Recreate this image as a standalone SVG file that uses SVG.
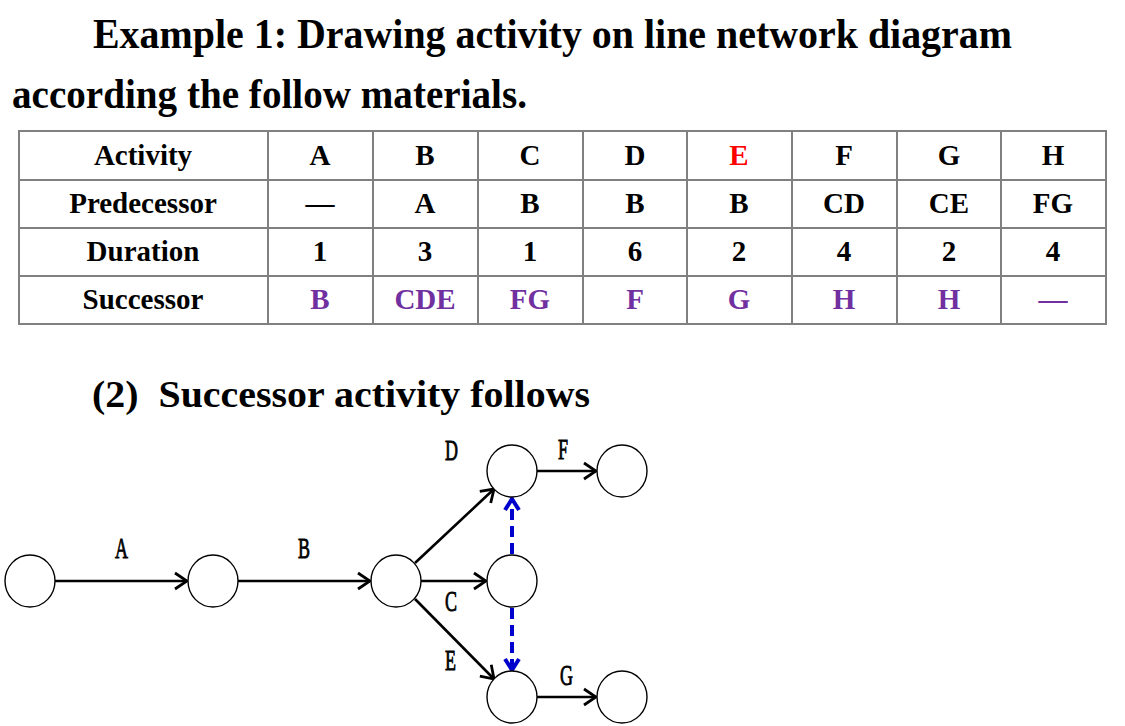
<svg xmlns="http://www.w3.org/2000/svg" width="1125" height="726" viewBox="0 0 1125 726">
<style>
.t{font-family:"Liberation Serif","Times New Roman",serif;font-weight:bold;fill:#000}
.c{font-family:"Liberation Serif","Times New Roman",serif;font-weight:bold;font-size:29px;text-anchor:middle;fill:#000}
.p{fill:#7030A0}
.r{fill:#FF0000}
.g{stroke:#808080;stroke-width:2;fill:none}
.n{fill:#fff;stroke:#000;stroke-width:1.4}
.a{stroke:#000;stroke-width:2.6;fill:none}
.d{stroke:#0000CC;stroke-width:4;fill:none;stroke-dasharray:11 6}
.l{font-family:"Liberation Serif","Times New Roman",serif;font-size:30px;fill:#000;stroke:#000;stroke-width:0.9}
</style>
<defs>
<marker id="ah" viewBox="-15 -10 17 20" refX="0" refY="0" markerWidth="17" markerHeight="20" markerUnits="userSpaceOnUse" orient="auto">
<polyline points="-12,-8 0,0 -12,8" fill="none" stroke="#000" stroke-width="2.8"/>
</marker>
<marker id="bh" viewBox="-15 -10 17 20" refX="0" refY="0" markerWidth="17" markerHeight="20" markerUnits="userSpaceOnUse" orient="auto">
<polyline points="-11,-7 0,0 -11,7" fill="none" stroke="#0000CC" stroke-width="4"/>
</marker>
</defs>
<rect width="1125" height="726" fill="#fff"/>
<g id="title">
<text class="t" transform="translate(93,48) scale(1,1.08)" font-size="40" textLength="919" lengthAdjust="spacingAndGlyphs">Example 1: Drawing activity on line network diagram</text>
<text class="t" transform="translate(12,108) scale(1,1.08)" font-size="40" textLength="515" lengthAdjust="spacingAndGlyphs">according the follow materials.</text>
</g>
<g id="table">
<rect class="g" x="19" y="131" width="1087" height="193"/>
<path class="g" d="M19 180H1106M19 228H1106M19 276H1106M268 131V324M373 131V324M478 131V324M583 131V324M687 131V324M792 131V324M897 131V324M1001 131V324"/>
<g class="c">
<text x="143" y="165">Activity</text>
<text x="320" y="165">A</text><text x="425" y="165">B</text><text x="530" y="165">C</text><text x="635" y="165">D</text><text x="739" y="165" class="r">E</text><text x="844" y="165">F</text><text x="949" y="165">G</text><text x="1053" y="165">H</text>
<text x="143" y="213">Predecessor</text>
<text x="320" y="213">—</text><text x="425" y="213">A</text><text x="530" y="213">B</text><text x="635" y="213">B</text><text x="739" y="213">B</text><text x="844" y="213">CD</text><text x="949" y="213">CE</text><text x="1053" y="213">FG</text>
<text x="143" y="261">Duration</text>
<text x="320" y="261">1</text><text x="425" y="261">3</text><text x="530" y="261">1</text><text x="635" y="261">6</text><text x="739" y="261">2</text><text x="844" y="261">4</text><text x="949" y="261">2</text><text x="1053" y="261">4</text>
<text x="143" y="309">Successor</text>
<g class="p"><text x="320" y="309">B</text><text x="425" y="309">CDE</text><text x="530" y="309">FG</text><text x="635" y="309">F</text><text x="739" y="309">G</text><text x="844" y="309">H</text><text x="949" y="309">H</text><text x="1053" y="309">—</text></g>
</g>
</g>
<g id="subtitle">
<text class="t" transform="translate(92,407) scale(1,1.08)" font-size="36" textLength="498" lengthAdjust="spacingAndGlyphs">(2)&#160; Successor activity follows</text>
</g>
<g id="connectors">
<line class="a" x1="55" y1="581" x2="187" y2="581" marker-end="url(#ah)"/>
<line class="a" x1="238" y1="581" x2="370" y2="581" marker-end="url(#ah)"/>
<line class="a" x1="415" y1="563" x2="494" y2="489" marker-end="url(#ah)"/>
<line class="a" x1="421" y1="581" x2="486" y2="581" marker-end="url(#ah)"/>
<line class="a" x1="415" y1="599" x2="494" y2="679" marker-end="url(#ah)"/>
<line class="a" x1="537" y1="471" x2="596" y2="471" marker-end="url(#ah)"/>
<line class="a" x1="537" y1="697" x2="596" y2="697" marker-end="url(#ah)"/>
<line class="d" x1="512" y1="554" x2="512" y2="499" marker-end="url(#bh)"/>
<line class="d" x1="512" y1="608" x2="512" y2="670" marker-end="url(#bh)"/>
<g class="l">
<text transform="translate(115,558) scale(0.6,1)">A</text>
<text transform="translate(298,558) scale(0.6,1)">B</text>
<text transform="translate(445,611) scale(0.6,1)">C</text>
<text transform="translate(445,460) scale(0.6,1)">D</text>
<text transform="translate(445,670) scale(0.6,1)">E</text>
<text transform="translate(558,459) scale(0.6,1)">F</text>
<text transform="translate(560,685) scale(0.6,1)">G</text>
</g>
</g>
<g id="n1"><ellipse class="n" cx="30" cy="581" rx="25" ry="26"/></g>
<g id="n2"><ellipse class="n" cx="213" cy="581" rx="25" ry="26"/></g>
<g id="n3"><ellipse class="n" cx="396" cy="581" rx="25" ry="26"/></g>
<g id="n4"><ellipse class="n" cx="512" cy="471" rx="25" ry="26"/></g>
<g id="n5"><ellipse class="n" cx="512" cy="581" rx="25" ry="26"/></g>
<g id="n6"><ellipse class="n" cx="512" cy="697" rx="25" ry="26"/></g>
<g id="n7"><ellipse class="n" cx="622" cy="471" rx="25" ry="26"/></g>
<g id="n8"><ellipse class="n" cx="622" cy="697" rx="25" ry="26"/></g>
</svg>
